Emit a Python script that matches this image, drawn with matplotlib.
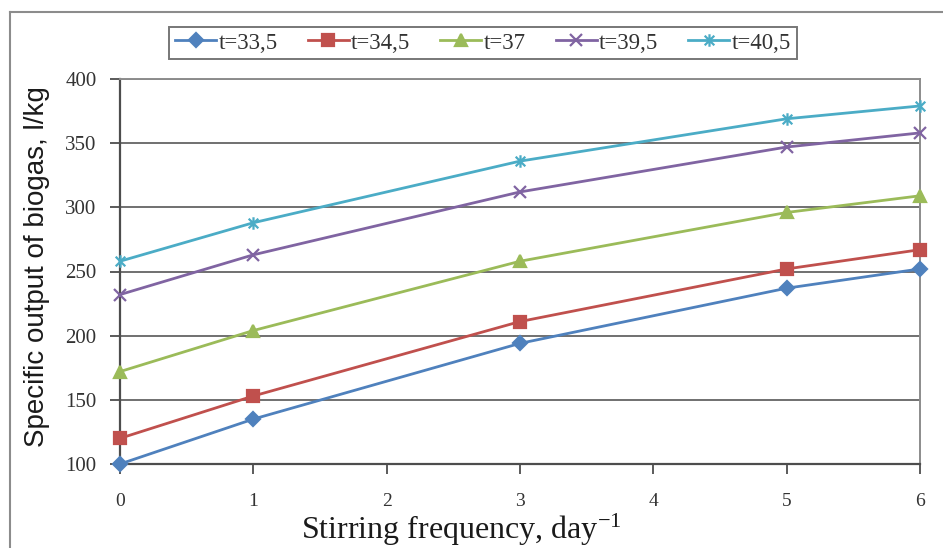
import matplotlib.pyplot as plt
from matplotlib.path import Path
from matplotlib.lines import Line2D

# stirring frequency, day^-1
freq = [0, 1, 3, 5, 6]

# specific biogas output, l/kg, one list per temperature
t_33_5 = [100, 135, 194, 237, 252]
t_34_5 = [120, 153, 211, 252, 267]
t_37 = [172, 204, 258, 296, 309]
t_39_5 = [232, 263, 312, 347, 358]
t_40_5 = [258, 288, 336, 369, 379]

labels = ["t=33,5", "t=34,5", "t=37", "t=39,5", "t=40,5"]
x_ticks = [0, 1, 2, 3, 4, 5, 6]
y_ticks = [100, 150, 200, 250, 300, 350, 400]

# excel style asterisk: an x with a vertical bar through it
star = Path([(-1, -1), (1, 1), (-1, 1), (1, -1), (0, -1.3), (0, 1.3)],
            [Path.MOVETO, Path.LINETO, Path.MOVETO, Path.LINETO,
             Path.MOVETO, Path.LINETO])

styles = [
    ("#4F81BD", "D", 7),
    ("#C0504D", "s", 8),
    ("#9BBB59", "^", 8),
    ("#8064A2", "x", 8),
    ("#4BACC6", star, 9),
]

SERIF = "Liberation Serif"
SANS = "Liberation Sans"
plt.rcParams["mathtext.fontset"] = "custom"
plt.rcParams["mathtext.rm"] = SERIF
plt.rcParams["mathtext.it"] = SERIF + ":italic"

fig = plt.figure(figsize=(9.43, 5.48), dpi=100)
ax = fig.add_axes([120 / 943, 84 / 548, 800 / 943, 385 / 548])

series = [t_33_5, t_34_5, t_37, t_39_5, t_40_5]
handles = []
for vals, lab, (col, mk, ms) in zip(series, labels, styles):
    h, = ax.plot(freq, vals, color=col, lw=2, marker=mk, ms=ms,
                 mfc=col, mec=col, mew=1.6, label=lab, clip_on=False,
                 zorder=3)
    handles.append(h)

ax.set_xlim(0, 6)
ax.set_ylim(100, 400)
ax.set_xticks(x_ticks)
ax.set_yticks(y_ticks)
ax.yaxis.grid(True, color="#707070", lw=1.4)
ax.set_axisbelow(True)

for side in ("left", "bottom"):
    ax.spines[side].set_color("#4d4d4d")
    ax.spines[side].set_linewidth(1.6)
for side in ("top", "right"):
    ax.spines[side].set_color("#8c8c8c")
    ax.spines[side].set_linewidth(1.4)

ax.tick_params(axis="y", direction="out", length=7, width=1.3,
               color="#4d4d4d", pad=10, labelsize=15)
ax.tick_params(axis="x", direction="out", length=7, width=1.3,
               color="#4d4d4d", pad=14, labelsize=14)
for lbl in ax.get_xticklabels() + ax.get_yticklabels():
    lbl.set_family(SERIF)
    lbl.set_color("#333333")

fig.text(37 / 943, 1 - 267 / 548, "Specific output of biogas, l/kg",
         rotation=90, ha="center", va="center", fontsize=20,
         family=SANS, color="#1a1a1a")
fig.text(461 / 943, 9 / 548, "Stirring frequency, day$^{-1}$",
         ha="center", va="baseline", fontsize=23, family=SERIF,
         color="#1a1a1a")

leg = fig.legend(handles=handles, loc="center",
                 bbox_to_anchor=(483 / 943, 1 - 43 / 548), ncol=5,
                 frameon=True, fancybox=False, handlelength=1.8,
                 handletextpad=0.1, columnspacing=1.3, borderpad=0.25,
                 borderaxespad=0, prop={"family": SERIF, "size": 16.5})
leg.get_frame().set_edgecolor("#555555")
leg.get_frame().set_linewidth(1.4)
for txt in leg.get_texts():
    txt.set_color("#333333")

# outer chart frame, only the left and top edges are inside the crop
fig.add_artist(Line2D([10 / 943, 10 / 943], [0, 1 - 12 / 548],
                      transform=fig.transFigure, color="#8c8c8c", lw=1.5))
fig.add_artist(Line2D([10 / 943, 1], [1 - 12 / 548, 1 - 12 / 548],
                      transform=fig.transFigure, color="#8c8c8c", lw=1.5))

fig.savefig("out.png", dpi=100)
